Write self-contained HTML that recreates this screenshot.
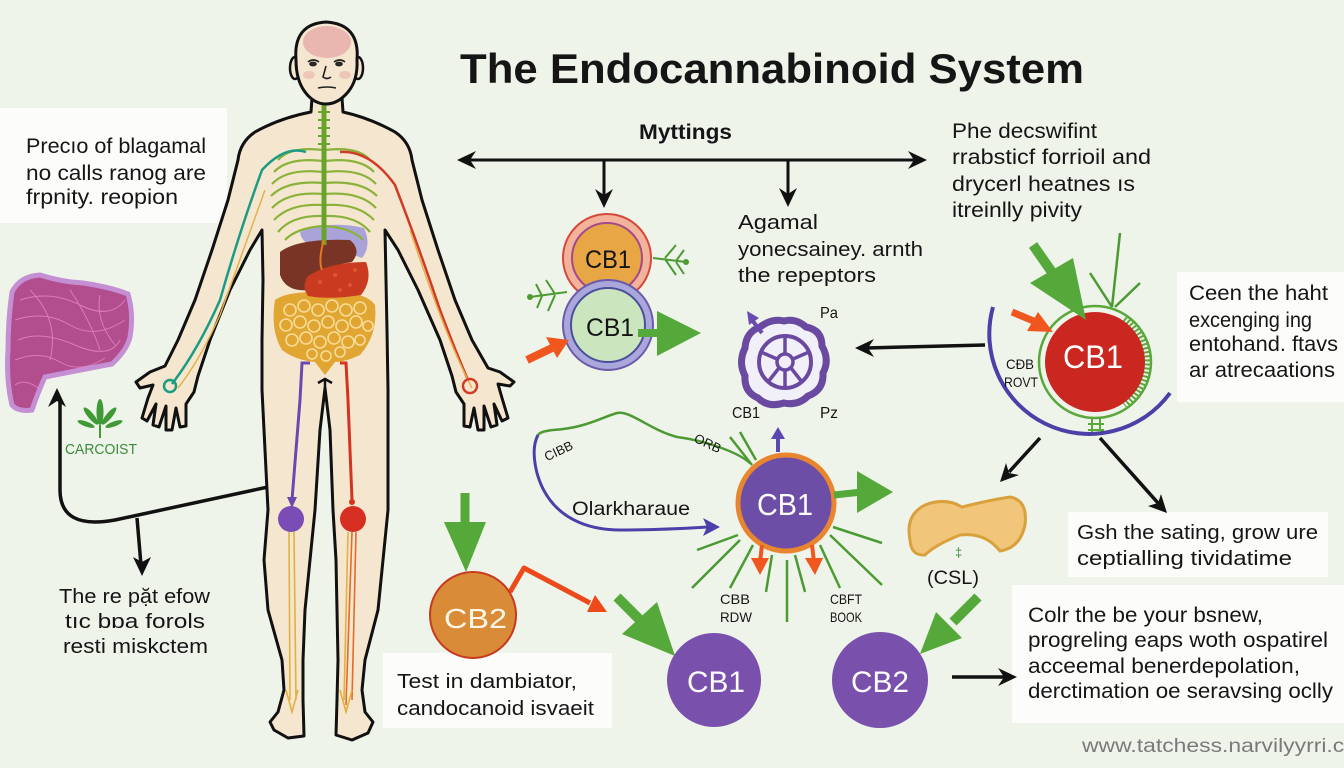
<!DOCTYPE html>
<html><head><meta charset="utf-8">
<style>
html,body{margin:0;padding:0;background:#eff4eb;}
svg{display:block}
text{font-family:"Liberation Sans",sans-serif;fill:#151515;}
</style></head><body>
<svg width="1344" height="768" viewBox="0 0 1344 768" xmlns="http://www.w3.org/2000/svg">
<rect width="1344" height="768" fill="#eff4eb"/>

<!-- white text boxes -->
<rect x="0" y="108" width="227" height="115" fill="#fcfdfb"/>
<rect x="1177" y="272" width="167" height="130" fill="#fcfdfb"/>
<rect x="1068" y="512" width="260" height="65" fill="#fcfdfb"/>
<rect x="1012" y="585" width="332" height="138" fill="#fcfdfb"/>
<rect x="383" y="653" width="229" height="75" fill="#fcfdfb"/>

<!-- lung / liver shape left -->
<path d="M12,292 Q20,276 40,275 Q62,282 83,283 Q110,287 128,294 Q134,315 130,337 Q127,350 112,364 Q80,370 45,377 Q38,392 32,410 Q18,412 12,405 Q6,380 8,350 Q8,320 12,292 Z" fill="#b24d8e" stroke="#c58fd3" stroke-width="5"/>
<g stroke="#e58ac4" stroke-width="1" fill="none" opacity="0.8">
<path d="M20,300 Q50,290 80,305 T125,300"/><path d="M15,320 Q45,310 70,325 T125,320"/><path d="M18,340 Q40,330 75,345 T120,340"/><path d="M15,360 Q40,350 60,362 T105,358"/><path d="M15,385 Q25,378 38,388"/><path d="M30,290 Q60,320 50,360"/><path d="M70,290 Q90,320 100,350"/><path d="M100,295 Q95,320 115,345"/>
</g>

<!-- cannabis leaf -->
<g fill="#3f9a35">
<ellipse cx="100" cy="412" rx="3.5" ry="13"/>
<ellipse cx="91" cy="416" rx="3" ry="11" transform="rotate(-40 91 416)"/>
<ellipse cx="109" cy="416" rx="3" ry="11" transform="rotate(40 109 416)"/>
<ellipse cx="86" cy="424" rx="2.5" ry="9" transform="rotate(-70 86 424)"/>
<ellipse cx="114" cy="424" rx="2.5" ry="9" transform="rotate(70 114 424)"/>
</g>
<line x1="100" y1="425" x2="100" y2="438" stroke="#3f9a35" stroke-width="2"/>
<text x="65" y="454" font-size="15" style="fill:#3a8a38" textLength="72" lengthAdjust="spacingAndGlyphs">CARCOIST</text>

<!-- black connector left -->
<path d="M268,487 L115,520 Q60,530 60,490 L60,400" fill="none" stroke="#111" stroke-width="3.5"/>
<polygon points="57,388 48,407 57,401 66,407" fill="#111"/>
<line x1="137" y1="518" x2="141" y2="565" stroke="#111" stroke-width="3.5"/>
<polygon points="142,576 133,557 142,562 151,557" fill="#111"/>

<!-- BODY -->
<path d="M312,98 L311,112 Q280,118 255,132 Q240,142 238,160 L228,200 L212,250 L195,300 L178,340 L165,366 L150,372 L136,382 L140,388 L153,385 L148,398 L142,418 L147,421 L156,404 L153,425 L159,427 L166,406 L166,430 L172,430 L176,408 L180,427 L186,426 L186,404 L194,392 L198,376 L210,340 L230,290 L250,250 L262,230 L263,280 L262,340 L262,390 L265,450 L268,510 L264,560 L268,610 L282,660 L284,690 L278,712 L270,722 L274,730 L288,738 L304,736 L303,700 L303,660 L305,610 L310,560 L315,510 L320,430 L325,388 L330,430 L333,510 L336,560 L337,610 L338,660 L337,700 L336,735 L352,740 L368,733 L373,722 L365,712 L362,690 L365,660 L378,610 L383,560 L388,510 L388,450 L388,390 L387,330 L386,280 L385,230 L398,250 L418,290 L440,340 L452,376 L456,392 L464,404 L464,426 L470,427 L474,408 L478,430 L484,430 L484,406 L491,427 L497,425 L494,404 L502,421 L508,418 L502,398 L498,384 L510,386 L514,382 L500,372 L488,368 L472,340 L455,300 L438,250 L422,200 L412,160 Q410,142 395,132 Q370,118 343,112 L342,98 Z" fill="#f5e7cf" stroke="#111" stroke-width="3" stroke-linejoin="round"/>

<!-- organs -->
<path d="M275,300 Q290,290 325,293 Q365,290 375,305 Q378,335 360,355 Q345,362 335,362 L325,375 L315,362 Q295,360 282,350 Q270,330 275,300 Z" fill="#e1a532"/>
<g fill="none" stroke="#f7dc98" stroke-width="1.6">
<circle cx="290" cy="310" r="6"/><circle cx="304" cy="306" r="6"/><circle cx="318" cy="310" r="6"/><circle cx="332" cy="306" r="6"/><circle cx="346" cy="310" r="6"/><circle cx="360" cy="308" r="6"/>
<circle cx="286" cy="325" r="6"/><circle cx="300" cy="322" r="6"/><circle cx="314" cy="326" r="6"/><circle cx="328" cy="322" r="6"/><circle cx="342" cy="326" r="6"/><circle cx="356" cy="322" r="6"/><circle cx="368" cy="326" r="5"/>
<circle cx="292" cy="340" r="6"/><circle cx="306" cy="338" r="6"/><circle cx="320" cy="342" r="6"/><circle cx="334" cy="338" r="6"/><circle cx="348" cy="342" r="6"/><circle cx="360" cy="340" r="5"/>
<circle cx="312" cy="354" r="5"/><circle cx="326" cy="356" r="5"/><circle cx="340" cy="352" r="5"/>
</g>
<path d="M300,232 Q330,220 364,228 Q372,245 362,258 Q340,250 320,246 Q302,246 300,232 Z" fill="#a9a3da"/>
<path d="M280,252 Q298,238 350,240 Q362,250 352,262 Q322,266 312,290 Q286,293 280,275 Z" fill="#7a3426"/>
<path d="M308,276 Q330,262 366,262 Q373,280 361,295 Q330,300 308,296 Q301,286 308,276 Z" fill="#c93a20"/>
<g fill="#e86a3a" opacity="0.6"><circle cx="320" cy="282" r="2"/><circle cx="335" cy="275" r="2"/><circle cx="350" cy="285" r="2"/><circle cx="340" cy="290" r="2"/><circle cx="355" cy="270" r="2"/></g>

<!-- ribs -->
<g fill="none" stroke="#8ab23a" stroke-width="2.2">
<path d="M323,150 Q290,146 278,160"/><path d="M323,161 Q288,157 274,172"/><path d="M323,172 Q287,168 272,184"/><path d="M323,183 Q287,180 271,196"/><path d="M323,194 Q288,191 272,208"/><path d="M323,205 Q290,203 274,220"/><path d="M323,216 Q292,215 278,232"/><path d="M323,226 Q296,228 285,240"/>
<path d="M325,150 Q358,146 370,160"/><path d="M325,161 Q360,157 374,172"/><path d="M325,172 Q361,168 376,184"/><path d="M325,183 Q361,180 377,196"/><path d="M325,194 Q360,191 376,208"/><path d="M325,205 Q358,203 374,220"/><path d="M325,216 Q356,215 370,232"/><path d="M325,226 Q352,228 363,240"/>
</g>
<line x1="324" y1="104" x2="324" y2="245" stroke="#6aa32c" stroke-width="5"/>
<g stroke="#6aa32c" stroke-width="2"><line x1="318" y1="112" x2="330" y2="112"/><line x1="318" y1="120" x2="330" y2="120"/><line x1="318" y1="128" x2="330" y2="128"/><line x1="318" y1="136" x2="330" y2="136"/><line x1="318" y1="144" x2="330" y2="144"/></g>
<path d="M324,240 Q318,260 322,270" stroke="#e07a20" stroke-width="2" fill="none"/>

<!-- head -->
<ellipse cx="295" cy="68" rx="5" ry="11" fill="#f5e7cf" stroke="#111" stroke-width="2.5"/>
<ellipse cx="358" cy="68" rx="5" ry="11" fill="#f5e7cf" stroke="#111" stroke-width="2.5"/>
<path d="M296,60 Q293,24 326,22 Q360,24 357,60 Q358,80 348,92 Q338,104 326,104 Q314,104 305,92 Q296,80 296,60 Z" fill="#f5e7cf" stroke="#111" stroke-width="3"/>
<ellipse cx="327" cy="42" rx="24" ry="16" fill="#e6adaa" opacity="0.85"/>
<g stroke="#222" stroke-width="1.6" fill="none">
<path d="M308,62 Q313,58 319,62"/><path d="M334,62 Q340,58 345,62"/>
<ellipse cx="313" cy="64" rx="3" ry="1.6" fill="#333"/><ellipse cx="339" cy="64" rx="3" ry="1.6" fill="#333"/>
<path d="M326,66 L323,77 Q327,80 331,77"/><path d="M318,88 Q327,86 336,88"/>
</g>
<ellipse cx="309" cy="75" rx="6" ry="4" fill="#eab0a8" opacity="0.6"/><ellipse cx="345" cy="75" rx="6" ry="4" fill="#eab0a8" opacity="0.6"/>

<!-- arm lines -->
<path d="M306,152 Q285,145 262,170 Q240,230 220,300 Q198,350 172,384" fill="none" stroke="#1b9b82" stroke-width="2.5"/>
<path d="M265,190 Q240,260 220,315 Q200,360 178,388" fill="none" stroke="#e4b04a" stroke-width="1.5"/>
<circle cx="170" cy="386" r="6" fill="none" stroke="#1b9b82" stroke-width="2.5"/>
<path d="M340,152 Q370,150 395,185 Q420,250 440,310 Q455,350 468,380" fill="none" stroke="#d23a28" stroke-width="2.5"/>
<path d="M410,230 Q430,290 448,335 Q460,365 472,388" fill="none" stroke="#e4b04a" stroke-width="1.5"/>
<circle cx="470" cy="386" r="7" fill="none" stroke="#d23a28" stroke-width="2.5"/>

<!-- leg lines -->
<path d="M310,363 L302,363 L300,400 L292,500" fill="none" stroke="#6a48b0" stroke-width="3"/>
<polygon points="292,508 287,497 297,497" fill="#6a48b0"/>
<path d="M340,363 L346,363 L348,400 L352,500" fill="none" stroke="#d53322" stroke-width="3"/>
<circle cx="352" cy="502" r="3" fill="#d53322"/>
<circle cx="291" cy="519" r="13" fill="#7a4cb6"/>
<circle cx="353" cy="519" r="13" fill="#d62f22"/>
<g fill="none" stroke-width="1.6">
<path d="M289,532 L290,700 M294,532 L296,700 M286,690 L292,712 L298,690" stroke="#e3b040"/>
<path d="M352,532 L346,705 M356,532 L352,700" stroke="#e46b2a"/>
<path d="M348,532 L344,700 M340,690 L346,712 L352,690" stroke="#e3b040"/>
</g>
<path d="M318,383 L325,379 L332,383 M325,379 L325,398" fill="none" stroke="#111" stroke-width="2.5"/>

<!-- top-left text -->
<g font-size="21">
<text x="26" y="153" textLength="180" lengthAdjust="spacingAndGlyphs">Precıo of blagamal</text>
<text x="26" y="180" textLength="180" lengthAdjust="spacingAndGlyphs">no calls ranog are</text>
<text x="26" y="204" textLength="152" lengthAdjust="spacingAndGlyphs">frpnity. reopion</text>
</g>
<!-- bottom-left text -->
<g font-size="20">
<text x="59" y="603" textLength="151" lengthAdjust="spacingAndGlyphs">The re pặt efow</text>
<text x="65" y="628" textLength="140" lengthAdjust="spacingAndGlyphs">tıc bɒa forols</text>
<text x="63" y="653" textLength="145" lengthAdjust="spacingAndGlyphs">resti miskctem</text>
</g>

<!-- title -->
<text x="460" y="83" font-size="42" font-weight="bold" textLength="624" lengthAdjust="spacingAndGlyphs">The Endocannabinoid System</text>
<text x="639" y="139" font-size="21" font-weight="bold" textLength="93" lengthAdjust="spacingAndGlyphs">Myttings</text>

<!-- top double arrow -->
<line x1="466" y1="160" x2="918" y2="160" stroke="#111" stroke-width="3"/>
<polygon points="457,160 476,151 470,160 476,169" fill="#111"/>
<polygon points="927,160 908,151 914,160 908,169" fill="#111"/>
<line x1="604" y1="160" x2="604" y2="198" stroke="#111" stroke-width="3"/>
<polygon points="604,208 595,189 604,195 613,189" fill="#111"/>
<line x1="788" y1="160" x2="788" y2="197" stroke="#111" stroke-width="3"/>
<polygon points="788,207 779,188 788,194 797,188" fill="#111"/>

<!-- left CB1 pair -->
<g stroke="#4c9a32" stroke-width="2" fill="none">
<path d="M653,258 L686,262 M665,258 L676,245 M665,259 L676,275 M676,261 L684,250 M676,262 L684,274"/>
<path d="M567,292 L530,297 M555,294 L546,280 M555,295 L548,311 M542,296 L536,284 M542,296 L537,308"/>
</g>
<circle cx="686" cy="262" r="3" fill="#4c9a32"/><circle cx="530" cy="297" r="3" fill="#4c9a32"/>
<circle cx="607" cy="258" r="44" fill="#f2b39a" stroke="#d5483a" stroke-width="2"/>
<circle cx="607" cy="258" r="35" fill="#e9a645" stroke="#a24a8a" stroke-width="2"/>
<text x="585" y="268" font-size="25" textLength="46" lengthAdjust="spacingAndGlyphs">CB1</text>
<circle cx="608" cy="325" r="45" fill="#a9a7dc" stroke="#6a5aa8" stroke-width="2"/>
<circle cx="608" cy="325" r="37" fill="#cbe6bf" stroke="#4b4f9a" stroke-width="2"/>
<text x="586" y="336" font-size="25" textLength="48" lengthAdjust="spacingAndGlyphs">CB1</text>
<line x1="638" y1="333" x2="662" y2="333" stroke="#55a83a" stroke-width="8"/>
<polygon points="657,311 701,333 657,356" fill="#55a83a"/>
<line x1="527" y1="360" x2="552" y2="348" stroke="#f0561e" stroke-width="8"/>
<polygon points="569,340 557,358 546,337" fill="#f0561e"/>

<!-- Agamal text -->
<g font-size="20">
<text x="738" y="229" textLength="80" lengthAdjust="spacingAndGlyphs">Agamal</text>
<text x="738" y="256" textLength="185" lengthAdjust="spacingAndGlyphs">yonecsainey. arnth</text>
<text x="738" y="282" textLength="138" lengthAdjust="spacingAndGlyphs">the repeptors</text>
</g>

<!-- purple wheel -->
<path d="M784,321 Q796,318 806,327 Q822,330 822,346 Q830,360 823,373 Q824,390 808,396 Q798,406 784,403 Q768,408 758,398 Q744,392 745,376 Q738,362 745,348 Q746,332 760,327 Q772,318 784,321 Z" fill="#f1eff7" stroke="#6a4aa0" stroke-width="7"/>
<circle cx="785" cy="362" r="26" fill="none" stroke="#6a4aa0" stroke-width="4"/>
<circle cx="785" cy="362" r="8" fill="none" stroke="#6a4aa0" stroke-width="3.5"/>
<g stroke="#6a4aa0" stroke-width="3.5"><line x1="785" y1="354" x2="785" y2="336"/><line x1="785" y1="370" x2="785" y2="388"/><line x1="777" y1="359" x2="761" y2="352"/><line x1="793" y1="359" x2="809" y2="352"/><line x1="779" y1="368" x2="768" y2="382"/><line x1="791" y1="368" x2="802" y2="382"/></g>
<line x1="762" y1="333" x2="752" y2="320" stroke="#6a4ab0" stroke-width="4"/>
<polygon points="747,311 759,318 749,325" fill="#6a4ab0"/>
<text x="820" y="318" font-size="16" textLength="18" lengthAdjust="spacingAndGlyphs">Pa</text>
<text x="732" y="418" font-size="16" textLength="28" lengthAdjust="spacingAndGlyphs">CB1</text>
<text x="820" y="418" font-size="16" textLength="18" lengthAdjust="spacingAndGlyphs">Pz</text>

<!-- arrow from right to wheel -->
<line x1="866" y1="348" x2="985" y2="345" stroke="#111" stroke-width="3.5"/>
<polygon points="855,348 874,339 868,348 874,357" fill="#111"/>

<!-- top right text -->
<g font-size="21">
<text x="952" y="138" textLength="145" lengthAdjust="spacingAndGlyphs">Phe decswifint</text>
<text x="952" y="164" textLength="199" lengthAdjust="spacingAndGlyphs">rrabsticf forrioil and</text>
<text x="952" y="191" textLength="183" lengthAdjust="spacingAndGlyphs">drycerl heatnes ıs</text>
<text x="952" y="217" textLength="130" lengthAdjust="spacingAndGlyphs">itreinlly pivity</text>
</g>

<!-- right CB1 -->
<path d="M993,307 A100,100 0 0 0 1170,393" fill="none" stroke="#4b40a8" stroke-width="4"/>
<g stroke="#4c9a32" stroke-width="2.5" fill="none">
<path d="M1120,233 L1112,307 M1090,273 L1112,307 M1140,283 L1115,307"/>
</g>
<circle cx="1095" cy="362" r="56" fill="none" stroke="#5aa83a" stroke-width="2.5"/>
<path d="M1125,318 A56,56 0 0 1 1125,406" fill="none" stroke="#5aa83a" stroke-width="7" stroke-dasharray="2 2"/>
<path d="M1092,418 L1092,432 M1100,418 L1100,432 M1088,424 L1104,424 M1088,430 L1104,430" stroke="#5aa83a" stroke-width="2"/>
<circle cx="1095" cy="362" r="50" fill="#c9271f"/>
<text x="1063" y="368" font-size="32" style="fill:#fff" textLength="60" lengthAdjust="spacingAndGlyphs">CB1</text>
<line x1="1033" y1="245" x2="1056" y2="278" stroke="#55a83a" stroke-width="10"/>
<polygon points="1030,283 1073,258 1086,320" fill="#55a83a"/>
<line x1="1012" y1="312" x2="1036" y2="322" stroke="#f0561e" stroke-width="7"/>
<polygon points="1053,332 1027,331 1038,312" fill="#f0561e"/>
<text x="1006" y="369" font-size="14" textLength="28" lengthAdjust="spacingAndGlyphs">CÐB</text>
<text x="1004" y="387" font-size="14" textLength="34" lengthAdjust="spacingAndGlyphs">ROVT</text>

<!-- right box text -->
<g font-size="21">
<text x="1189" y="300" textLength="139" lengthAdjust="spacingAndGlyphs">Ceen the haht</text>
<text x="1189" y="327" textLength="123" lengthAdjust="spacingAndGlyphs">excenging ing</text>
<text x="1189" y="351" textLength="149" lengthAdjust="spacingAndGlyphs">entohand. ftavs</text>
<text x="1189" y="377" textLength="146" lengthAdjust="spacingAndGlyphs">ar atrecaations</text>
</g>

<!-- arrows below arc -->
<line x1="1040" y1="438" x2="1009" y2="472" stroke="#111" stroke-width="3.5"/>
<polygon points="1000,482 1019,475 1009,473 1006,463" fill="#111"/>
<line x1="1100" y1="438" x2="1158" y2="503" stroke="#111" stroke-width="3.5"/>
<polygon points="1167,513 1161,494 1158,503 1148,506" fill="#111"/>

<!-- Gsh text -->
<g font-size="20">
<text x="1077" y="539" textLength="241" lengthAdjust="spacingAndGlyphs">Gsh the sating, grow ure</text>
<text x="1077" y="565" textLength="215" lengthAdjust="spacingAndGlyphs">ceptialling tividatime</text>
</g>

<!-- yellow blob -->
<path d="M910,540 Q905,515 925,505 Q945,497 962,507 Q990,500 1010,497 Q1028,500 1025,525 Q1020,548 1000,551 Q985,532 960,535 Q935,545 925,555 Q911,556 910,540 Z" fill="#f1c67b" stroke="#d9a13c" stroke-width="3"/>
<text x="955" y="557" font-size="13" style="fill:#3a8a38">‡</text>
<text x="927" y="584" font-size="19" textLength="52" lengthAdjust="spacingAndGlyphs">(CSL)</text>

<!-- mid CB1 -->
<path d="M750,463 C735,450 700,440 677,437 C650,430 630,410 617,413 C600,418 585,428 553,430 C545,431 540,432 538,435" fill="none" stroke="#4c9a32" stroke-width="2.5"/>
<path d="M538,435 C530,450 535,480 550,500 C565,520 590,530 620,530 C660,530 690,528 708,527" fill="none" stroke="#4b40a8" stroke-width="3"/>
<polygon points="720,527 703,518 707,527 703,536" fill="#4b40a8"/>
<g stroke="#4c9a32" stroke-width="2.5" fill="none">
<path d="M730,437 L752,465 M740,432 L756,460"/>
<path d="M738,535 L697,550 M740,540 L692,588 M753,545 L730,588 M772,555 L766,592 M787,560 L787,622 M795,555 L805,592 M820,545 L840,588 M830,535 L882,585 M833,527 L882,543"/>
</g>
<text x="543" y="456" font-size="13" transform="rotate(-25 557 450)" textLength="30" lengthAdjust="spacingAndGlyphs">CIBB</text>
<text x="693" y="448" font-size="13" transform="rotate(25 708 445)" textLength="28" lengthAdjust="spacingAndGlyphs">ORB</text>
<text x="572" y="515" font-size="19" textLength="118" lengthAdjust="spacingAndGlyphs">Olarkharaue</text>
<line x1="778" y1="452" x2="778" y2="437" stroke="#5a48b0" stroke-width="4"/>
<polygon points="778,427 771,439 785,439" fill="#5a48b0"/>
<circle cx="786" cy="503" r="48" fill="#6d4ea6" stroke="#e88630" stroke-width="5"/>
<text x="757" y="515" font-size="31" style="fill:#fff" textLength="56" lengthAdjust="spacingAndGlyphs">CB1</text>
<line x1="834" y1="495" x2="862" y2="492" stroke="#55a83a" stroke-width="7"/>
<polygon points="857,471 893,492 857,513" fill="#55a83a"/>
<line x1="762" y1="545" x2="760" y2="562" stroke="#f0561e" stroke-width="4"/>
<polygon points="751,558 769,558 760,575" fill="#f0561e"/>
<line x1="812" y1="545" x2="814" y2="562" stroke="#f0561e" stroke-width="4"/>
<polygon points="805,558 823,558 815,575" fill="#f0561e"/>
<g font-size="14">
<text x="720" y="604" textLength="30" lengthAdjust="spacingAndGlyphs">CBB</text>
<text x="720" y="622" textLength="32" lengthAdjust="spacingAndGlyphs">RDW</text>
<text x="830" y="604" textLength="32" lengthAdjust="spacingAndGlyphs">CBFT</text>
<text x="830" y="622" textLength="32" lengthAdjust="spacingAndGlyphs">BOOK</text>
</g>

<!-- orange CB2 -->
<line x1="465" y1="493" x2="465" y2="526" stroke="#55a83a" stroke-width="9"/>
<polygon points="444,522 486,522 466,572" fill="#55a83a"/>
<polyline points="510,592 524,568 590,603" fill="none" stroke="#ec4a1a" stroke-width="5" stroke-linejoin="round"/>
<polygon points="607,612 595,595 587,612" fill="#ec4a1a"/>
<circle cx="473" cy="615" r="43" fill="#d98b38" stroke="#c8391e" stroke-width="2"/>
<text x="444" y="628" font-size="28" style="fill:#fff6e6" textLength="63" lengthAdjust="spacingAndGlyphs">CB2</text>
<g font-size="20">
<text x="397" y="688" textLength="180" lengthAdjust="spacingAndGlyphs">Test in dambiator,</text>
<text x="397" y="715" textLength="197" lengthAdjust="spacingAndGlyphs">candocanoid isvaeit</text>
</g>

<!-- bottom CB1/CB2 -->
<line x1="617" y1="597" x2="642" y2="622" stroke="#55a83a" stroke-width="10"/>
<polygon points="622,634 657,602 675,656" fill="#55a83a"/>
<circle cx="714" cy="680" r="47" fill="#7a50ad"/>
<text x="687" y="692" font-size="30" style="fill:#fff" textLength="58" lengthAdjust="spacingAndGlyphs">CB1</text>
<line x1="978" y1="597" x2="953" y2="622" stroke="#55a83a" stroke-width="10"/>
<polygon points="920,654 936,612 962,638" fill="#55a83a"/>
<circle cx="880" cy="680" r="48" fill="#7a50ad"/>
<text x="851" y="692" font-size="30" style="fill:#fff" textLength="58" lengthAdjust="spacingAndGlyphs">CB2</text>
<line x1="952" y1="677" x2="1006" y2="677" stroke="#111" stroke-width="3.5"/>
<polygon points="1017,677 998,668 1004,677 998,686" fill="#111"/>

<!-- bottom-right text -->
<g font-size="21">
<text x="1028" y="622" textLength="235" lengthAdjust="spacingAndGlyphs">Colr the be your bsnew,</text>
<text x="1028" y="647" textLength="300" lengthAdjust="spacingAndGlyphs">progreling eaps woth ospatirel</text>
<text x="1028" y="673" textLength="272" lengthAdjust="spacingAndGlyphs">acceemal benerdepolation,</text>
<text x="1028" y="698" textLength="305" lengthAdjust="spacingAndGlyphs">derctimation oe seravsing oclly</text>
</g>
<text x="1082" y="752" font-size="19" style="fill:#7a7a7a" textLength="275" lengthAdjust="spacingAndGlyphs">www.tatchess.narvilyyrri.co</text>
</svg>
</body></html>
